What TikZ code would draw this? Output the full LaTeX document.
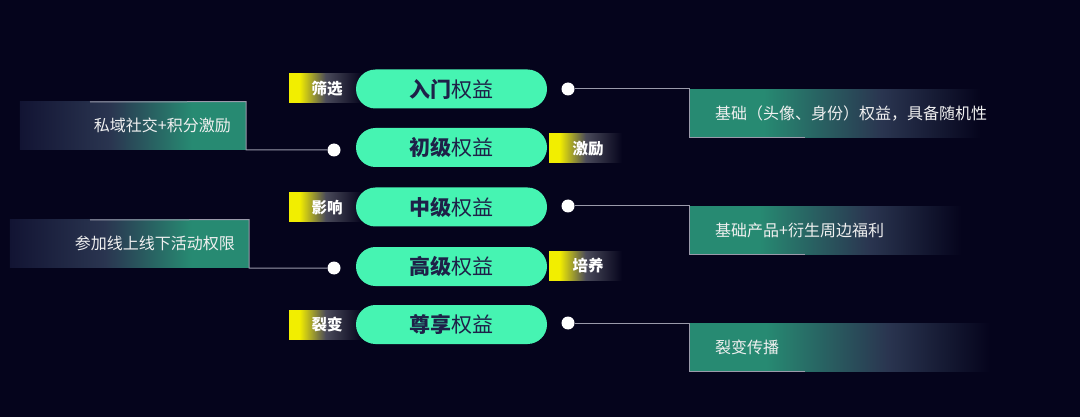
\documentclass[tikz,border=0pt]{standalone}
\usepackage{fontspec}
\newfontfamily\cjk{Noto Sans CJK SC}
\usetikzlibrary{calc}
\definecolor{bg}{HTML}{05041C}
\definecolor{pillc}{HTML}{46F4B2}
\definecolor{pilltext}{HTML}{1E2148}
\definecolor{boxteal}{HTML}{278A72}
\definecolor{slate}{HTML}{2A3550}
\definecolor{ldark}{HTML}{121433}
\definecolor{tagY}{HTML}{F2EE00}
\definecolor{tagG}{HTML}{4A4A5A}
\definecolor{linec}{HTML}{9A9AAA}
\definecolor{boxtextc}{HTML}{F0F0F0}
\pgfdeclarehorizontalshading{rshade}{100bp}{color(0bp)=(boxteal); color(25bp)=(boxteal); color(37bp)=(boxteal); color(56bp)=(slate); color(72bp)=(bg); color(100bp)=(bg)}
\pgfdeclarehorizontalshading{lshade}{100bp}{color(0bp)=(ldark); color(25bp)=(ldark); color(45bp)=(slate); color(63bp)=(boxteal); color(75bp)=(boxteal); color(100bp)=(boxteal)}
\pgfdeclarehorizontalshading{tshade}{100bp}{color(0bp)=(tagY); color(25bp)=(tagY); color(32bp)=(tagY); color(50bp)=(tagG); color(75bp)=(bg); color(100bp)=(bg)}
\begin{document}
\begin{tikzpicture}[x=1pt,y=-1pt,
  pill/.style={fill=pillc, rounded corners=19.5pt, minimum width=191pt, minimum height=39pt, inner sep=0pt, text=pilltext, font=\cjk\fontsize{21}{24}\selectfont},
  tagbox/.style={shading=tshade, minimum width=73pt, minimum height=29pt, inner sep=0pt, anchor=west},
  tagtext/.style={text=white, font=\cjk\bfseries\fontsize{15.5}{18}\selectfont, inner sep=0pt},
  rbox/.style={shading=rshade, minimum height=48pt, inner sep=0pt, anchor=north west},
  lbox/.style={shading=lshade, minimum height=48pt, inner sep=0pt, anchor=south east},
  boxtext/.style={text=boxtextc, font=\cjk\fontsize{16}{19}\selectfont, inner sep=0pt},
  dotc/.style={circle, fill=white, minimum size=13pt, inner sep=0pt},
  conn/.style={draw=linec, line width=1pt}]
\fill[bg] (0,0) rectangle (1080,417);
\useasboundingbox (0,0) rectangle (1080,417);

% tags
\node[tagbox] (t1) at (289,88.5) {};
\node[tagtext] (t1l) at (327,88.5) {筛选};
\node[tagbox] (t2) at (549,148.5) {};
\node[tagtext] (t2l) at (588,148.5) {激励};
\node[tagbox] (t3) at (289,207.5) {};
\node[tagtext] (t3l) at (327,207.5) {影响};
\node[tagbox] (t4) at (549,265.5) {};
\node[tagtext] (t4l) at (588,265.5) {培养};
\node[tagbox] (t5) at (289,325) {};
\node[tagtext] (t5l) at (327,325) {裂变};

% right boxes
\node[rbox, minimum width=310pt] (rb1) at (689,89) {};
\node[boxtext, anchor=west] (rb1t) at ($(rb1.west)+(26,0)$) {基础（头像、身份）权益，具备随机性};
\node[rbox, minimum width=290pt] (rb2) at (689,206) {};
\node[boxtext, anchor=west] (rb2t) at ($(rb2.west)+(26,0)$) {基础产品+衍生周边福利};
\node[rbox, minimum width=320pt] (rb3) at (689,323) {};
\node[boxtext, anchor=west] (rb3t) at ($(rb3.west)+(26,0)$) {裂变传播};

% left boxes
\node[lbox, minimum width=226pt] (lb1) at (246,150) {};
\node[boxtext, anchor=east] (lb1t) at ($(lb1.east)+(-15,0)$) {私域社交+积分激励};
\node[lbox, minimum width=239pt] (lb2) at (249,268) {};
\node[boxtext, anchor=east] (lb2t) at ($(lb2.east)+(-14,0)$) {参加线上线下活动权限};

% pills
\node[pill] (p1) at (451.5,89) {\textbf{入门}权益};
\node[pill] (p2) at (451.5,147.5) {\textbf{初级}权益};
\node[pill] (p3) at (451.5,207) {\textbf{中级}权益};
\node[pill] (p4) at (451.5,266.5) {\textbf{高级}权益};
\node[pill] (p5) at (451.5,324.5) {\textbf{尊享}权益};

% dots
\node[dotc] (rd1) at (568,89) {};
\node[dotc] (ld2) at (334,150) {};
\node[dotc] (rd3) at (568,206) {};
\node[dotc] (ld4) at (334,268) {};
\node[dotc] (rd5) at (568,323) {};

% connector ends
\coordinate (rb1e) at ($(rb1.south west)+(116,0)$);
\coordinate (rb2e) at ($(rb2.south west)+(116,0)$);
\coordinate (rb3e) at ($(rb3.south west)+(116,0)$);
\coordinate (lb1e) at (90,102);
\coordinate (lb2e) at (90,220);

\draw[conn] (rd1) -- (rd1 -| rb1.north west) -- (rb1.south west) -- (rb1e);
\draw[conn] (rd3) -- (rd3 -| rb2.north west) -- (rb2.south west) -- (rb2e);
\draw[conn] (rd5) -- (rd5 -| rb3.north west) -- (rb3.south west) -- (rb3e);
\draw[conn] (ld2) -- (ld2 -| lb1.south east) -- (lb1.north east) -- (lb1e);
\draw[conn] (ld4) -- (ld4 -| lb2.south east) -- (lb2.north east) -- (lb2e);
\end{tikzpicture}
\end{document}
